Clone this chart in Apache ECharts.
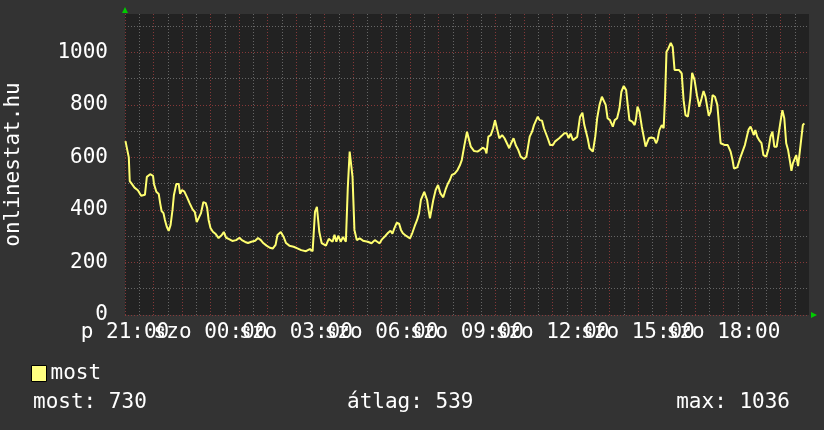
<!DOCTYPE html>
<html>
<head>
<meta charset="utf-8">
<script src="https://cdn.jsdelivr.net/npm/echarts@6/dist/echarts.min.js"></script>
<style>
html,body{margin:0;padding:0;background:#333333;}
#chart{width:824px;height:430px;}
</style>
</head>
<body>
<div id="chart"></div>
<script>
// minutes after Friday 21:00
const minutes = [1,5,8,10,14,20,27,34,38,42,46,53,59,61,66,71,74,77,81,84,88,92,96,100,103,108,113,116,120,125,131,136,142,147,151,155,160,165,170,173,176,180,185,191,197,204,208,213,219,226,234,241,246,253,259,266,274,280,286,291,298,305,311,317,321,328,334,339,346,355,364,371,381,389,395,400,404,409,414,423,429,433,437,441,445,449,454,459,465,469,473,476,479,483,488,494,501,511,519,526,531,536,541,548,554,559,563,567,572,577,581,585,592,600,605,610,615,619,623,630,636,639,642,645,649,654,659,664,670,675,680,684,688,694,700,705,709,714,717,720,724,728,735,742,747,753,758,761,765,770,775,779,783,788,794,799,804,809,813,818,823,828,833,840,845,848,852,857,861,865,869,873,878,882,886,890,895,901,905,909,914,920,925,930,934,938,943,947,952,958,963,967,970,974,978,985,990,994,999,1004,1008,1012,1016,1021,1027,1031,1036,1041,1045,1050,1055,1058,1062,1068,1073,1076,1079,1083,1088,1092,1096,1100,1103,1108,1114,1118,1121,1125,1130,1134,1137,1140,1144,1149,1153,1157,1161,1166,1172,1176,1180,1185,1190,1194,1199,1204,1209,1214,1218,1222,1226,1229,1233,1237,1242,1247,1250,1254,1258,1263,1269,1275,1279,1282,1285,1289,1295,1300,1305,1310,1313,1317,1321,1324,1327,1331,1335,1340,1344,1350,1355,1359,1363,1367,1372,1376,1380,1384,1388,1392,1396,1400,1403,1406,1409,1413,1417,1421,1424,1427,1430];
const mostValues = [662,655,600,510,500,485,475,454,450,458,526,536,530,499,469,461,426,396,388,362,336,320,343,400,457,499,499,461,476,470,447,426,403,392,354,369,388,430,426,407,362,331,317,308,293,305,316,294,289,282,285,294,285,278,274,279,283,293,285,274,264,256,253,267,305,316,297,274,264,260,253,247,243,251,243,393,412,317,274,264,290,290,279,305,279,302,279,297,279,483,622,622,526,324,285,292,283,279,273,285,279,273,288,301,313,321,310,330,351,348,324,311,301,292,313,339,362,387,438,469,438,400,368,370,438,476,495,463,448,478,501,514,533,538,552,570,590,641,643,698,704,641,624,622,628,637,632,615,679,685,711,742,711,673,685,673,654,635,654,673,645,628,603,594,603,635,679,698,723,730,755,742,740,711,692,673,647,647,660,654,673,683,692,692,673,691,666,673,678,755,770,723,717,673,635,622,679,749,800,831,825,800,749,742,717,742,749,787,850,872,857,806,742,736,723,749,793,774,717,679,641,635,673,676,673,654,666,704,723,711,831,1002,1015,1036,1021,933,926,933,920,818,761,755,825,922,895,837,793,825,853,831,825,758,774,837,831,800,793,654,654,647,647,622,590,558,552,562,597,622,647,685,707,717,723,685,704,679,666,654,609,603,635,679,698,641,641,647,736,780,749,654,628,584,549,577,584,609,567,628,635,723,730];
const seriesName = 'most';
const tickMinutes = [0,180,360,540,720,900,1080,1260];
const tickLabels = ['p 21:00','szo 00:00','szo 03:00','szo 06:00','szo 09:00','szo 12:00','szo 15:00','szo 18:00'];
const yLabelValues = [0,200,400,600,800,1000];
const statNames = ['most','átlag','max'];
const statValues = [730,539,1036];
const axisTitle = 'onlinestat.hu';

(function(){
const FONT = 'DejaVu Sans Mono';
const FS = 21;
const RED = 'rgba(150,60,60,0.85)';
const GRAY = 'rgba(110,110,110,0.9)';

const yColors = [];
for (let i = 0; i <= 11; i++) yColors.push(i % 2 === 0 ? RED : GRAY);
yColors.push('rgba(0,0,0,0)');

const chart = echarts.init(document.getElementById('chart'), null, {renderer:'canvas'});
const data = minutes.map((m,i)=>[m, mostValues[i]]);

chart.setOption({
  backgroundColor:'#333333',
  animation:false,
  textStyle:{fontFamily:FONT},
  grid:{left:125,right:15,top:14,bottom:115,show:true,backgroundColor:'#222222',borderWidth:0,containLabel:false,outerBoundsMode:'none'},
  xAxis:{
    type:'value', min:0, max:1440, interval:30,
    axisLine:{show:false}, axisTick:{show:false},
    splitLine:{show:true, showMaxLine:false, lineStyle:{color:[RED,GRAY], type:[1,2], width:1}},
    axisLabel:{
      color:'#ffffff', fontFamily:FONT, fontSize:FS, margin:7, showMaxLabel:false, hideOverlap:false,
      formatter:function(v){ const k = tickMinutes.indexOf(v); return k>=0 ? tickLabels[k] : ''; }
    }
  },
  yAxis:{
    type:'value', min:0, max:1146, interval:100,
    name:axisTitle, nameLocation:'middle', nameRotate:90, nameGap:101,
    nameTextStyle:{color:'#ffffff', fontFamily:FONT, fontSize:FS},
    axisLine:{show:false}, axisTick:{show:false},
    splitLine:{show:true, showMaxLine:false, lineStyle:{color:yColors, type:[1,2], width:1}},
    axisLabel:{
      color:'#ffffff', fontFamily:FONT, fontSize:FS, margin:17, showMaxLabel:false,
      formatter:function(v){ return yLabelValues.indexOf(v)>=0 ? String(v) : ''; }
    }
  },
  legend:{
    left:31, top:363, padding:0, itemWidth:15, itemHeight:16, itemGap:10,
    textStyle:{color:'#ffffff', fontFamily:FONT, fontSize:FS, padding:[0,0,0,-1]},
    data:[{name:seriesName, icon:'rect', itemStyle:{color:'#ffff80', borderColor:'#000000', borderWidth:1}}]
  },
  title: statNames.map((n,i)=>{
    const t = {text:n+': '+statValues[i], top:392, textStyle:{color:'#ffffff', fontFamily:FONT, fontSize:FS, fontWeight:'normal'}, padding:0};
    if (i===0) t.left = 33; else if (i===1) t.left = 347; else t.right = 34;
    return t;
  }),
  series:[{
    name:seriesName, type:'line', data:data, showSymbol:false, symbol:'none',
    lineStyle:{color:'#ffff70', width:2}, itemStyle:{color:'#ffff80'}
  }]
});

// green axis arrows
const pTop = chart.convertToPixel({gridIndex:0}, [0, 1146]);
const pRight = chart.convertToPixel({gridIndex:0}, [1440, 0]);
chart.setOption({
  graphic:[
    {type:'polygon', shape:{points:[[pTop[0]-3,pTop[1]-1],[pTop[0]+3,pTop[1]-1],[pTop[0],pTop[1]-7]]}, style:{fill:'#00cc00'}},
    {type:'polygon', shape:{points:[[pRight[0]+2,pRight[1]-3],[pRight[0]+2,pRight[1]+3],[pRight[0]+8,pRight[1]]]}, style:{fill:'#00cc00'}}
  ]
});
})();
</script>
</body>
</html>
